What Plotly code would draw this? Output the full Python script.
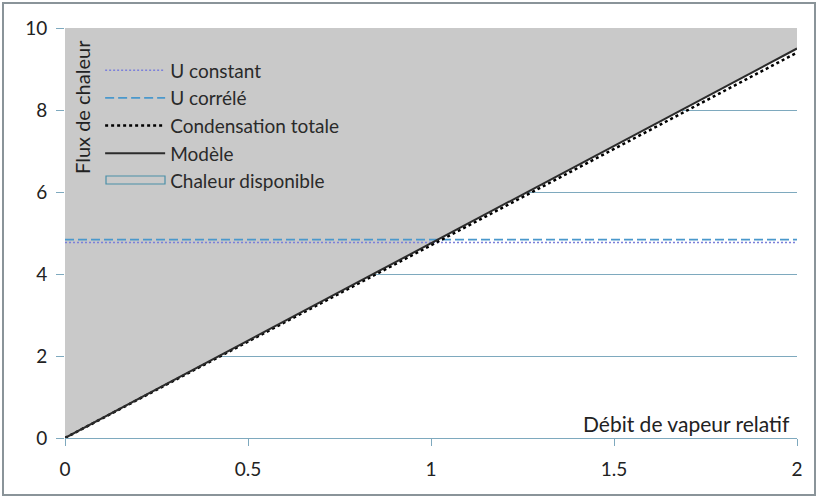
import plotly.graph_objects as go

x_vals = [0, 2]
u_constant = [4.77, 4.77]
u_correle = [4.84, 4.84]
condensation = [0, 9.4]
modele = [0, 9.5]
chaleur_x = [0, 2, 2, 0]
chaleur_y = [0, 9.5, 10, 10]

x_ticks = [0, 0.5, 1, 1.5, 2]
x_tick_labels = ["0", "0.5", "1", "1.5", "2"]
y_ticks = [0, 2, 4, 6, 8, 10]
y_tick_labels = ["0", "2", "4", "6", "8", "10"]

FONT = "Lato"
GRID = "#7EA9BE"
FILL = "#C9C9C9"
TXT = "#222222"

fig = go.Figure()

fig.add_trace(go.Scatter(x=chaleur_x, y=chaleur_y, fill="toself", mode="lines",
                         fillcolor=FILL, line=dict(color=FILL, width=0),
                         name="Chaleur disponible", showlegend=False))
fig.add_trace(go.Scatter(x=x_vals, y=u_constant, mode="lines", name="U constant",
                         line=dict(color="#7C80DA", width=1.5, dash="2px,2px")))
fig.add_trace(go.Scatter(x=x_vals, y=u_correle, mode="lines", name="U corrélé",
                         line=dict(color="#4A98CC", width=1.8, dash="9px,4px")))
fig.add_trace(go.Scatter(x=x_vals, y=condensation, mode="lines", name="Condensation totale",
                         line=dict(color="#000000", width=2.5, dash="dot")))
fig.add_trace(go.Scatter(x=x_vals, y=modele, mode="lines", name="Modèle",
                         line=dict(color="#2B2B2B", width=2)))
# legend entry for the filled area (no visible line; box drawn as a shape)
fig.add_trace(go.Scatter(x=[None], y=[None], mode="lines", name="Chaleur disponible",
                         line=dict(color="rgba(0,0,0,0)", width=0)))

PW, PH, L, T = 732, 410, 65, 28


def px_x(p):
    return (p - L) / PW


def px_y(p):
    return (T + PH - p) / PH


fig.update_layout(
    width=818, height=498,
    margin=dict(l=L, r=818 - L - PW, t=T, b=498 - T - PH),
    paper_bgcolor="white", plot_bgcolor="white",
    font=dict(family=FONT, size=19, color=TXT),
    legend=dict(x=0.048, y=0.943, xanchor="left", yanchor="top",
                bgcolor="rgba(0,0,0,0)", font=dict(family=FONT, size=19, color="#2A2A2A"),
                tracegroupgap=0, itemwidth=60),
    xaxis=dict(range=[0, 2], tickvals=x_ticks, ticktext=x_tick_labels,
               showgrid=False, zeroline=False, showline=True, linecolor=GRID, linewidth=1.2,
               ticks="outside", ticklen=7, tickcolor=GRID, ticklabelstandoff=7,
               tickfont=dict(family=FONT, size=19, color=TXT)),
    yaxis=dict(range=[0, 10], tickvals=y_ticks, ticktext=y_tick_labels,
               showgrid=True, gridcolor=GRID, gridwidth=1.2, zeroline=False,
               showline=False, ticks="outside", ticklen=8, tickcolor=GRID,
               ticklabelstandoff=5,
               tickfont=dict(family=FONT, size=19, color=TXT)),
    annotations=[
        dict(text="Flux de chaleur", x=0.005, y=0.975, xref="paper", yref="paper",
             xanchor="left", yanchor="top", textangle=-90, showarrow=False,
             font=dict(family=FONT, size=20, color=TXT)),
        dict(text="Débit de vapeur relatif", x=0.993, y=0.0, xref="paper", yref="paper",
             xanchor="right", yanchor="bottom", showarrow=False, yshift=0,
             font=dict(family=FONT, size=21, color=TXT)),
    ],
    shapes=[
        dict(type="rect", xref="paper", yref="paper",
             x0=px_x(3), x1=px_x(815), y0=px_y(495), y1=px_y(3),
             line=dict(color="#8A9499", width=2), layer="below"),
        dict(type="rect", xref="paper", yref="paper",
             x0=px_x(106), x1=px_x(165), y0=px_y(184), y1=px_y(176),
             fillcolor=FILL, line=dict(color="#4A8FA8", width=1.2), layer="above"),
    ],
)

fig.write_html("out.html", post_script="document.body.style.margin='0';",
               config={"displayModeBar": False})
